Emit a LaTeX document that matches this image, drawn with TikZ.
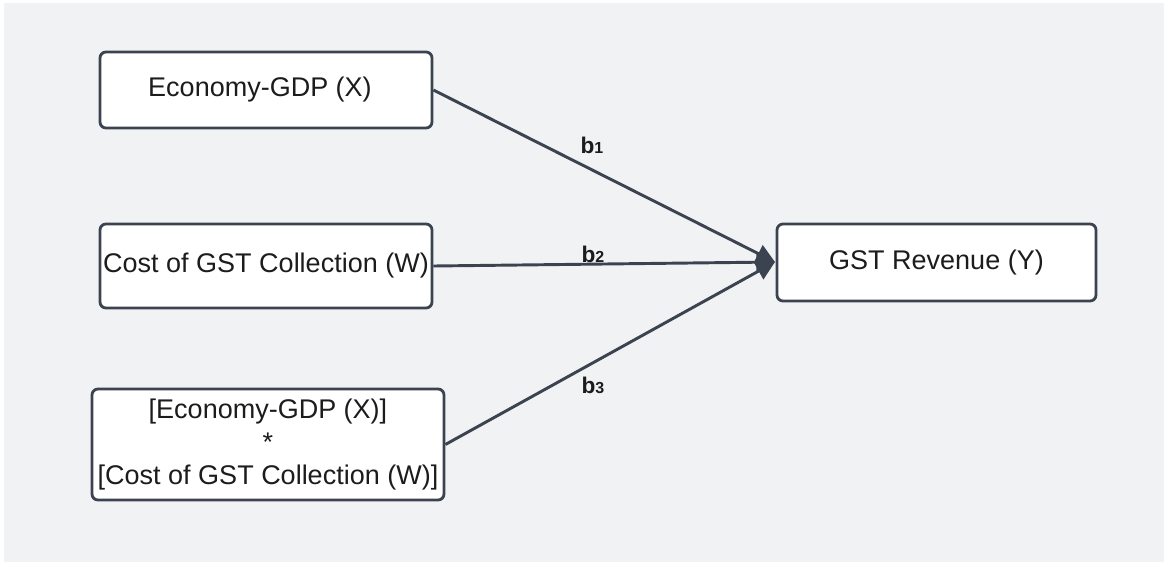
\documentclass[tikz,border=0pt]{standalone}
\usepackage{fontspec}
\setmainfont{Liberation Sans}
\usetikzlibrary{arrows.meta}
\definecolor{canvas}{HTML}{F1F2F4}
\definecolor{edge}{HTML}{3C4350}
\definecolor{ink}{HTML}{1C1C1C}
\tikzset{
  varbox/.style={draw=edge, fill=white, line width=2.1pt, rounded corners=4.5pt,
    inner sep=0pt, align=center, text=ink,
    font=\fontsize{20.25}{24.5}\selectfont},
  link/.style={draw=edge, line width=2.2pt,
    -{Triangle[length=14pt,width=14pt]}},
  coef/.style={text=ink, inner sep=0pt, font=\fontsize{17}{17}\selectfont\bfseries}
}
\newcommand{\coefsub}[1]{b{\fontsize{12}{12}\selectfont #1}}
\begin{document}
\begin{tikzpicture}[x=0.75pt, y=-0.75pt]
  \useasboundingbox (0,0) rectangle (1164,562);
  \fill[white] (0,0) rectangle (1164,562);
  \fill[canvas] (4,3) rectangle (1164,562);

  % predictors
  \node[varbox, minimum width=249pt, minimum height=57pt] (gdp) at (266,90) {Economy-GDP (X)\hspace*{9pt}};
  \node[varbox, minimum width=249pt, minimum height=63pt] (cost) at (266,266) {Cost of GST Collection (W)};
  \node[varbox, minimum width=264pt, minimum height=83.25pt] (inter) at (268,444.5)
    {{[}Economy-GDP (X){]}\\{*}\\{[}Cost of GST Collection (W){]}};

  % outcome
  \node[varbox, minimum width=239.25pt, minimum height=57.75pt] (rev) at (936.5,262.5) {GST Revenue (Y)};
  \coordinate (hit) at (775,262);

  % paths with coefficients
  \draw[link] (gdp.east) -- (hit);
  \draw[link] (cost.east) -- (hit);
  \draw[link] (inter.east) -- (hit);

  \node[coef] (b1) at (592,145) {\coefsub{1}};
  \node[coef] (b2) at (593,254) {\coefsub{2}};
  \node[coef] (b3) at (593,385) {\coefsub{3}};
\end{tikzpicture}
\end{document}
